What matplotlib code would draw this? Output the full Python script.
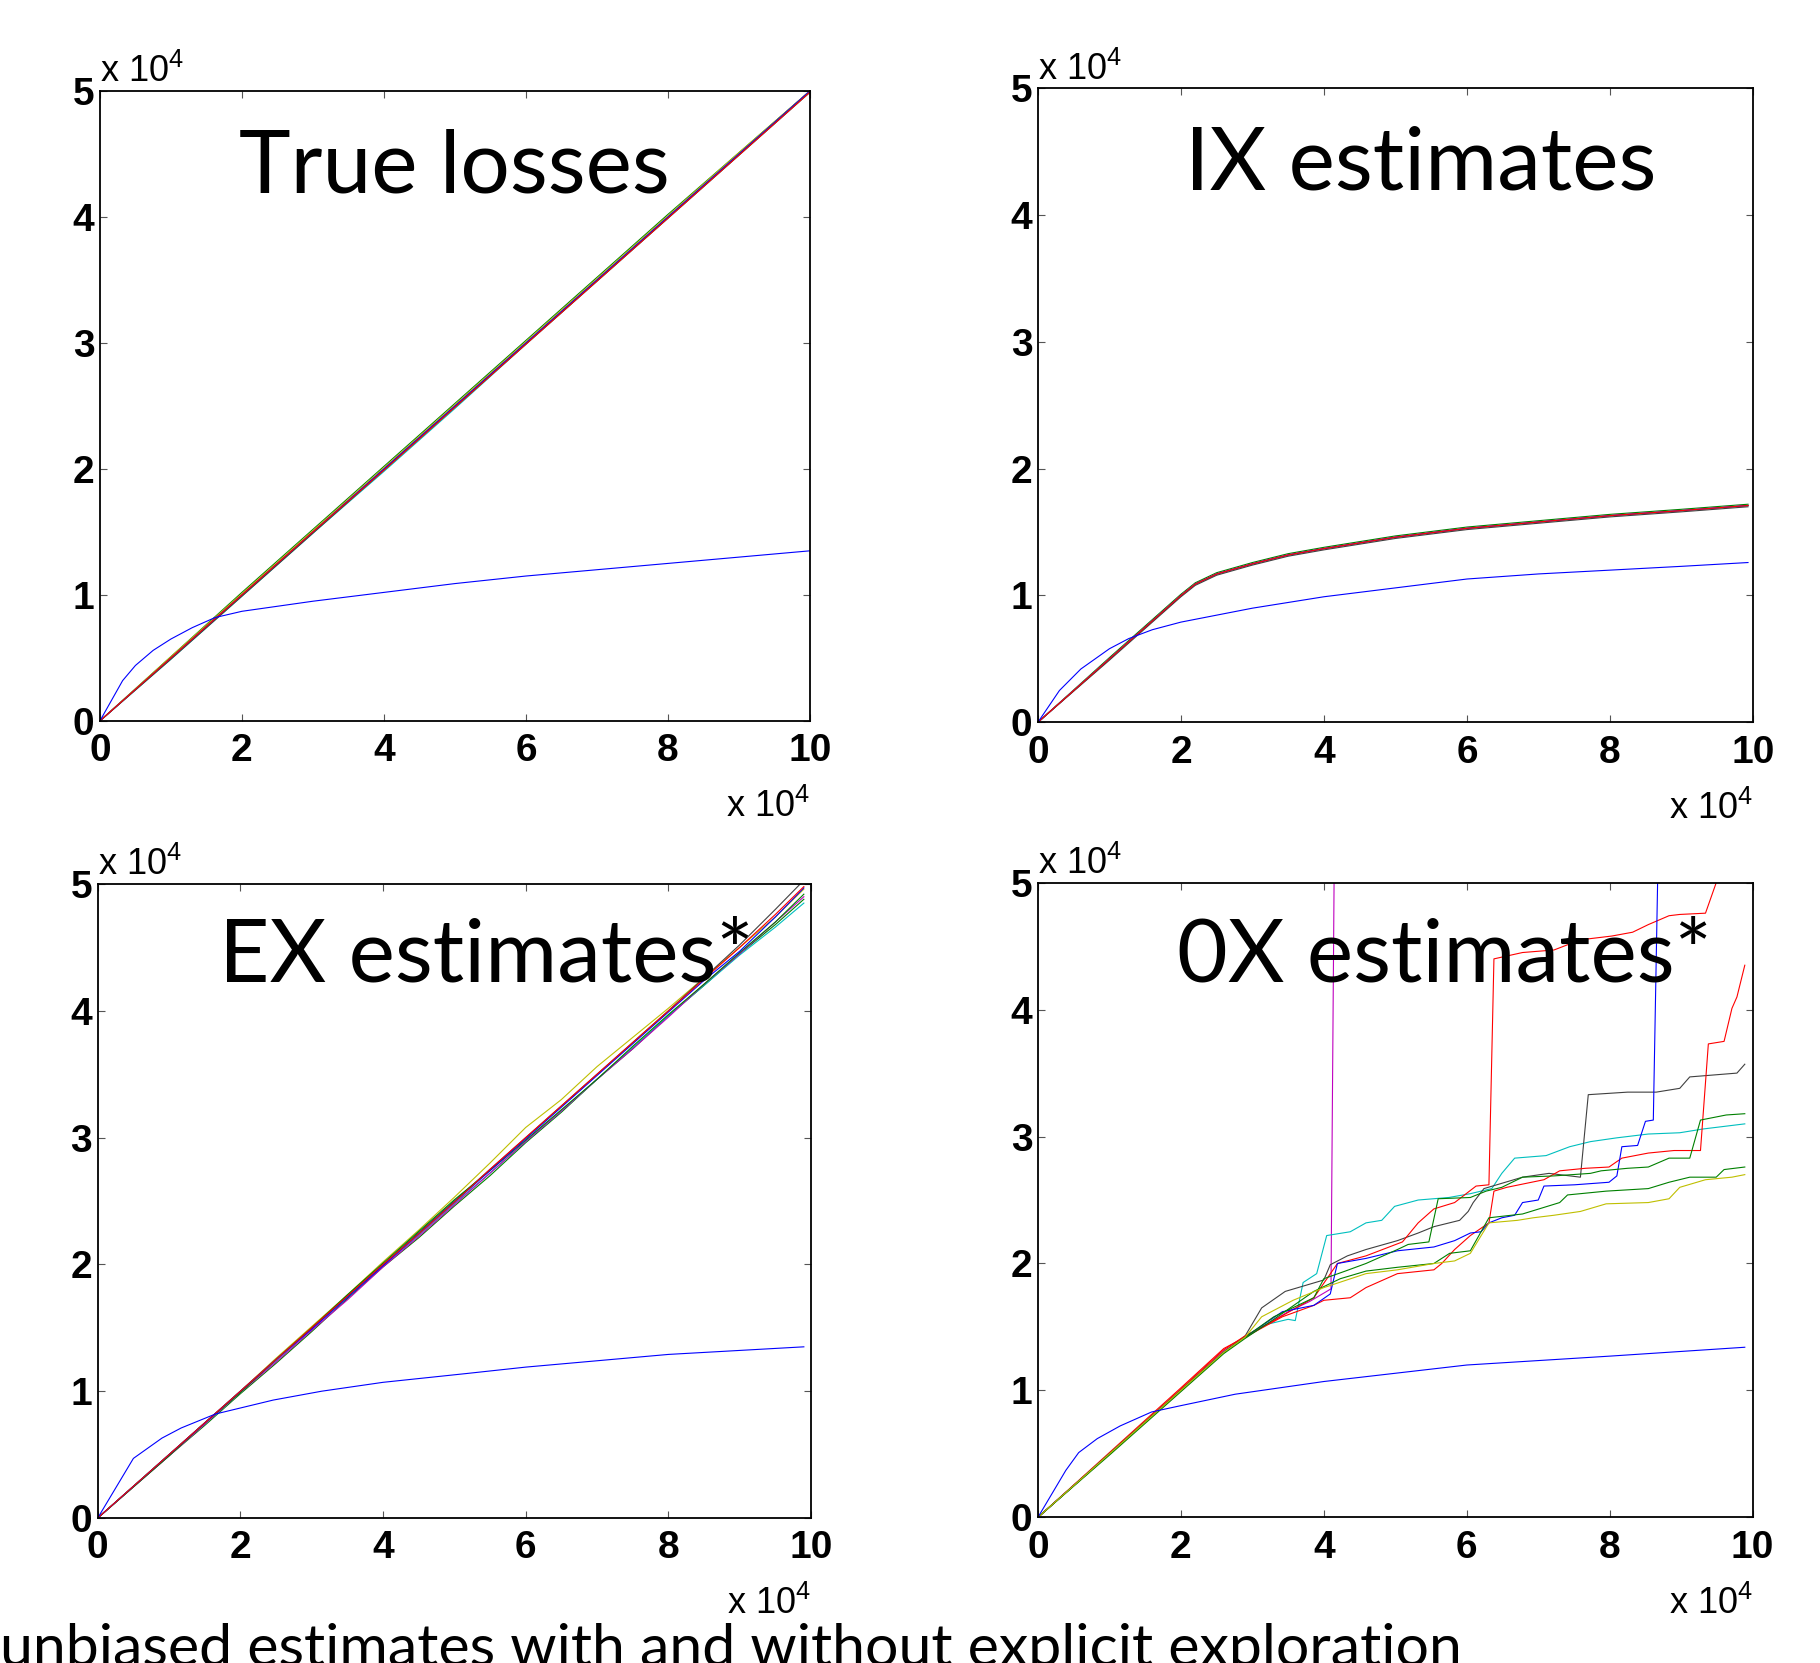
import matplotlib
matplotlib.use("Agg")
import matplotlib.pyplot as plt

plt.rcParams['font.family'] = ['Liberation Sans', 'DejaVu Sans']
plt.rcParams['mathtext.default'] = 'regular'

# MATLAB (old) default colour order
B = (0, 0, 1)
G = (0, 0.5, 0)
R = (1, 0, 0)
C = (0, 0.75, 0.75)
M = (0.75, 0, 0.75)
Y = (0.75, 0.75, 0)
K = (0.25, 0.25, 0.25)

# all values in units of 1e4 (as on the axes)

# --- True losses ---
tl_bound_x = [0, 0.32, 0.5, 0.75, 1.0, 1.3, 1.62, 2, 3, 4, 5, 6, 7, 8, 9, 10]
tl_bound_y = [0, 0.32, 0.44, 0.56, 0.65, 0.74, 0.82, 0.87, 0.95, 1.02, 1.09, 1.15, 1.2, 1.25, 1.3, 1.35]
tl_x = [0, 1, 2, 3, 4, 5, 6, 7, 8, 9, 10]
tl_lines = [
    (G, [0, 0.51, 1.02, 1.52, 2.02, 2.52, 3.02, 3.52, 4.02, 4.51, 5.0]),
    (C, [0, 0.49, 0.99, 1.49, 1.98, 2.48, 2.99, 3.49, 3.99, 4.49, 4.99]),
    (M, [0, 0.5, 1.0, 1.5, 2.0, 2.5, 3.0, 3.5, 4.0, 4.5, 5.0]),
    (Y, [0, 0.51, 1.01, 1.51, 2.01, 2.51, 3.01, 3.51, 4.01, 4.51, 5.0]),
    (B, [0, 0.5, 1.0, 1.5, 2.0, 2.5, 3.0, 3.5, 4.0, 4.5, 5.0]),
    (K, [0, 0.49, 0.99, 1.49, 1.99, 2.49, 2.99, 3.49, 3.99, 4.49, 4.99]),
    (R, [0, 0.5, 1.0, 1.5, 1.99, 2.49, 2.99, 3.49, 3.99, 4.49, 4.99]),
]

# --- IX estimates ---
ix_bound_x = [0, 0.3, 0.6, 1.0, 1.27, 1.6, 2, 3, 4, 5, 6, 7, 8, 9, 9.93]
ix_bound_y = [0, 0.25, 0.42, 0.58, 0.66, 0.73, 0.79, 0.9, 0.99, 1.06, 1.13, 1.17, 1.2, 1.23, 1.26]
ix_x = [0, 1, 2, 2.2, 2.5, 3, 3.5, 4, 5, 6, 7, 8, 9, 9.93]
ix_lines = [
    (G, [0, 0.51, 1.01, 1.1, 1.18, 1.26, 1.33, 1.38, 1.47, 1.54, 1.59, 1.64, 1.68, 1.72]),
    (C, [0, 0.5, 1.0, 1.09, 1.17, 1.25, 1.32, 1.37, 1.46, 1.53, 1.58, 1.63, 1.67, 1.71]),
    (M, [0, 0.5, 1.0, 1.09, 1.17, 1.25, 1.32, 1.37, 1.46, 1.53, 1.58, 1.63, 1.67, 1.71]),
    (Y, [0, 0.5, 1.0, 1.09, 1.17, 1.25, 1.32, 1.37, 1.46, 1.53, 1.58, 1.63, 1.67, 1.71]),
    (B, [0, 0.5, 1.0, 1.09, 1.17, 1.25, 1.32, 1.37, 1.46, 1.53, 1.58, 1.63, 1.67, 1.71]),
    (K, [0, 0.49, 0.99, 1.08, 1.16, 1.24, 1.31, 1.36, 1.45, 1.52, 1.57, 1.62, 1.66, 1.7]),
    (R, [0, 0.5, 1.0, 1.09, 1.17, 1.25, 1.32, 1.37, 1.46, 1.53, 1.58, 1.63, 1.67, 1.71]),
]

# --- EX estimates ---
ex_bound_x = [0, 0.5, 0.9, 1.17, 1.65, 2.46, 3.14, 4, 5.18, 6, 7.2, 8, 9.9]
ex_bound_y = [0, 0.47, 0.63, 0.71, 0.82, 0.93, 1.0, 1.07, 1.14, 1.19, 1.25, 1.29, 1.35]
ex_x = [0, 1, 1.5, 2, 2.5, 3, 3.5, 4, 4.5, 5, 5.5, 6, 6.5, 7, 7.5, 8, 8.5, 9, 9.5, 9.9]
ex_lines = [
    (G, [0, 0.49, 0.73, 0.98, 1.22, 1.47, 1.73, 1.98, 2.21, 2.46, 2.7, 2.96, 3.2, 3.46, 3.7, 3.96, 4.2, 4.45, 4.68, 4.88]),
    (C, [0, 0.5, 0.74, 0.99, 1.24, 1.49, 1.74, 1.99, 2.23, 2.48, 2.72, 2.97, 3.21, 3.46, 3.71, 3.96, 4.2, 4.44, 4.66, 4.85]),
    (M, [0, 0.49, 0.74, 0.99, 1.23, 1.48, 1.72, 1.98, 2.22, 2.47, 2.72, 2.97, 3.21, 3.46, 3.7, 3.95, 4.21, 4.45, 4.7, 4.9]),
    (Y, [0, 0.5, 0.75, 1.0, 1.26, 1.51, 1.76, 2.02, 2.27, 2.53, 2.8, 3.08, 3.3, 3.56, 3.79, 4.02, 4.26, 4.5, 4.74, 4.96]),
    (K, [0, 0.5, 0.75, 1.0, 1.25, 1.5, 1.75, 2.0, 2.25, 2.5, 2.75, 3.0, 3.25, 3.5, 3.75, 4.0, 4.26, 4.52, 4.8, 5.03]),
    (G, [0, 0.49, 0.75, 0.99, 1.25, 1.5, 1.76, 2.01, 2.26, 2.51, 2.74, 2.98, 3.22, 3.46, 3.72, 3.97, 4.21, 4.46, 4.7, 4.92]),
    (B, [0, 0.5, 0.75, 1.0, 1.25, 1.49, 1.74, 1.99, 2.24, 2.49, 2.74, 2.99, 3.24, 3.49, 3.74, 3.99, 4.24, 4.47, 4.74, 4.97]),
    (R, [0, 0.5, 0.75, 1.0, 1.25, 1.5, 1.75, 2.0, 2.24, 2.49, 2.75, 3.0, 3.25, 3.5, 3.75, 4.0, 4.25, 4.5, 4.76, 4.98]),
]

# --- 0X estimates ---
ox_bound_x = [0, 0.39, 0.57, 0.83, 1.15, 1.59, 2, 2.76, 4, 6, 8, 9.89]
ox_bound_y = [0, 0.37, 0.51, 0.62, 0.72, 0.83, 0.88, 0.97, 1.07, 1.2, 1.27, 1.34]
ox_lines = [
    (M, [0, 1, 2, 2.6, 2.9, 3.2, 3.5, 3.8, 4.1, 4.15, 4.2],
        [0, 0.5, 1, 1.31, 1.42, 1.52, 1.62, 1.7, 1.8, 5.5, 8]),
    (C, [0, 1, 2, 2.6, 2.9, 3.2, 3.5, 3.6, 3.71, 3.9, 4.04, 4.37, 4.59, 4.81, 4.99, 5.32, 5.75,
         6.05, 6.35, 6.49, 6.67, 7.11, 7.44, 7.73, 8.1, 8.54, 8.98, 9.31, 9.89],
        [0, 0.5, 1, 1.3, 1.42, 1.52, 1.56, 1.55, 1.85, 1.92, 2.22, 2.25, 2.32, 2.34, 2.45, 2.5, 2.52,
         2.55, 2.59, 2.71, 2.83, 2.85, 2.92, 2.96, 2.99, 3.02, 3.03, 3.06, 3.1]),
    (K, [0, 1, 2, 2.6, 2.9, 3.13, 3.46, 4.0, 4.09, 4.33, 4.59, 5.03, 5.32, 5.54, 5.9, 6.02, 6.09,
         6.24, 6.78, 7.15, 7.59, 7.7, 8.25, 8.65, 8.98, 9.12, 9.56, 9.78, 9.89],
        [0, 0.5, 1, 1.3, 1.43, 1.65, 1.78, 1.87, 1.99, 2.06, 2.11, 2.18, 2.24, 2.29, 2.34, 2.41, 2.48,
         2.59, 2.68, 2.71, 2.68, 3.33, 3.35, 3.35, 3.38, 3.47, 3.49, 3.5, 3.57]),
    (R, [0, 1, 2, 2.6, 2.9, 3.42, 3.86, 4.0, 4.37, 4.59, 5.03, 5.54, 5.65, 5.83, 6.05, 6.31, 6.38,
         6.56, 7.08, 7.3, 7.66, 7.99, 8.17, 8.54, 8.9, 9.27, 9.38, 9.6, 9.71, 9.78, 9.89],
        [0, 0.51, 1.02, 1.33, 1.42, 1.58, 1.67, 1.71, 1.73, 1.81, 1.92, 1.95, 2.0, 2.11, 2.22, 2.32, 2.57,
         2.6, 2.66, 2.73, 2.75, 2.76, 2.83, 2.87, 2.89, 2.89, 3.73, 3.75, 4.01, 4.1, 4.35]),
    (R, [0, 1, 2, 2.6, 2.9, 3.3, 3.86, 4.19, 4.59, 5.1, 5.32, 5.54, 5.83, 6.13, 6.31, 6.38, 6.78,
         7.22, 7.59, 8.03, 8.32, 8.54, 8.83, 8.98, 9.34, 9.49, 9.55],
        [0, 0.5, 1.01, 1.32, 1.43, 1.55, 1.73, 2.0, 2.06, 2.17, 2.32, 2.43, 2.48, 2.61, 2.62, 4.4, 4.45,
         4.47, 4.55, 4.58, 4.61, 4.67, 4.74, 4.75, 4.76, 5.0, 5.5]),
    (B, [0, 1, 2, 2.6, 2.9, 3.42, 3.86, 4.09, 4.19, 4.59, 5.03, 5.54, 5.83, 6.05, 6.2, 6.31, 6.49,
         6.67, 6.78, 7.0, 7.08, 7.51, 7.99, 8.1, 8.17, 8.39, 8.5, 8.61, 8.67, 8.7],
        [0, 0.5, 1, 1.3, 1.42, 1.62, 1.67, 1.76, 2.0, 2.04, 2.1, 2.13, 2.18, 2.24, 2.25, 2.32, 2.36,
         2.38, 2.48, 2.5, 2.61, 2.62, 2.64, 2.69, 2.92, 2.93, 3.12, 3.13, 5.0, 5.5]),
    (G, [0, 1, 2, 2.6, 2.9, 3.3, 3.86, 4.0, 4.3, 4.59, 5.03, 5.18, 5.47, 5.6, 6.05, 6.27, 6.49,
         6.78, 7.22, 7.73, 7.88, 8.25, 8.54, 8.83, 9.12, 9.27, 9.63, 9.89],
        [0, 0.5, 1, 1.3, 1.42, 1.58, 1.73, 1.88, 1.94, 2.0, 2.11, 2.15, 2.17, 2.51, 2.52, 2.57, 2.6,
         2.68, 2.69, 2.71, 2.73, 2.75, 2.76, 2.83, 2.83, 3.13, 3.17, 3.18]),
    (G, [0, 1, 2, 2.6, 2.9, 3.3, 3.86, 4.23, 4.59, 5.03, 5.54, 5.76, 6.05, 6.31, 6.78, 7.3, 7.41,
         7.95, 8.54, 8.83, 9.12, 9.49, 9.6, 9.89],
        [0, 0.49, 0.99, 1.29, 1.41, 1.56, 1.78, 1.88, 1.94, 1.97, 2.0, 2.08, 2.1, 2.36, 2.39, 2.48, 2.54,
         2.57, 2.59, 2.64, 2.68, 2.68, 2.74, 2.76]),
    (Y, [0, 1, 2, 2.6, 2.9, 3.13, 3.57, 4.0, 4.59, 5.03, 5.54, 5.83, 6.05, 6.31, 6.71, 6.93, 7.22,
         7.59, 7.95, 8.54, 8.83, 8.98, 9.34, 9.71, 9.89],
        [0, 0.5, 1, 1.3, 1.42, 1.58, 1.71, 1.81, 1.92, 1.95, 2.0, 2.02, 2.08, 2.32, 2.34, 2.36, 2.38,
         2.41, 2.47, 2.48, 2.51, 2.6, 2.66, 2.68, 2.7]),
]

titles = ["True losses", "IX estimates", "EX estimates*", "0X estimates*"]
title_pos = [(0.2495, 0.8845), (0.7808, 0.8863), (0.267, 0.4101), (0.7934, 0.4101)]
caption = "unbiased estimates with and without explicit exploration"

rects = [
    [0.0549, 0.5665, 0.3901, 0.3788],
    [0.5703, 0.5657, 0.3929, 0.3811],
    [0.0537, 0.0872, 0.3919, 0.3812],
    [0.5703, 0.0876, 0.3927, 0.3816],
]

fig = plt.figure(figsize=(18.2, 16.63), dpi=100)
axes = [fig.add_axes(r) for r in rects]
LW = 0.8

ax = axes[0]
for col, ys in tl_lines:
    ax.plot(tl_x, ys, color=col, lw=LW)
ax.plot(tl_bound_x, tl_bound_y, color=B, lw=LW)

ax = axes[1]
for col, ys in ix_lines:
    ax.plot(ix_x, ys, color=col, lw=LW)
ax.plot(ix_bound_x, ix_bound_y, color=B, lw=LW)

ax = axes[2]
for col, ys in ex_lines:
    ax.plot(ex_x, ys, color=col, lw=LW)
ax.plot(ex_bound_x, ex_bound_y, color=B, lw=LW)

ax = axes[3]
for col, xs, ys in ox_lines:
    ax.plot(xs, ys, color=col, lw=LW)
ax.plot(ox_bound_x, ox_bound_y, color=B, lw=LW)

for ax in axes:
    ax.set_xlim(0, 10)
    ax.set_ylim(0, 5)
    ax.set_xticks([0, 2, 4, 6, 8, 10])
    ax.set_yticks([0, 1, 2, 3, 4, 5])
    ax.tick_params(direction='in', length=5, width=0.8, color='#555555',
                   top=True, right=True, labelsize=28)
    ax.tick_params(axis='x', pad=9)
    ax.tick_params(axis='y', pad=4)
    for lab in ax.get_xticklabels() + ax.get_yticklabels():
        lab.set_fontweight('bold')
    for sp in ax.spines.values():
        sp.set_linewidth(1.3)
    ax.text(0, 1.014, r'x 10$^4$', transform=ax.transAxes, ha='left', va='baseline', fontsize=26)
    ax.text(1, -0.152, r'x 10$^4$', transform=ax.transAxes, ha='right', va='baseline', fontsize=26)

for t, (x, y) in zip(titles, title_pos):
    fig.text(x, y, t, ha='center', va='baseline', fontsize=63, family=['Lato', 'DejaVu Sans'], zorder=10)

fig.text(0.0, -0.002, caption, ha='left', va='baseline', fontsize=42.5, family=['Lato', 'DejaVu Sans'])

fig.savefig("out.png", dpi=100)
